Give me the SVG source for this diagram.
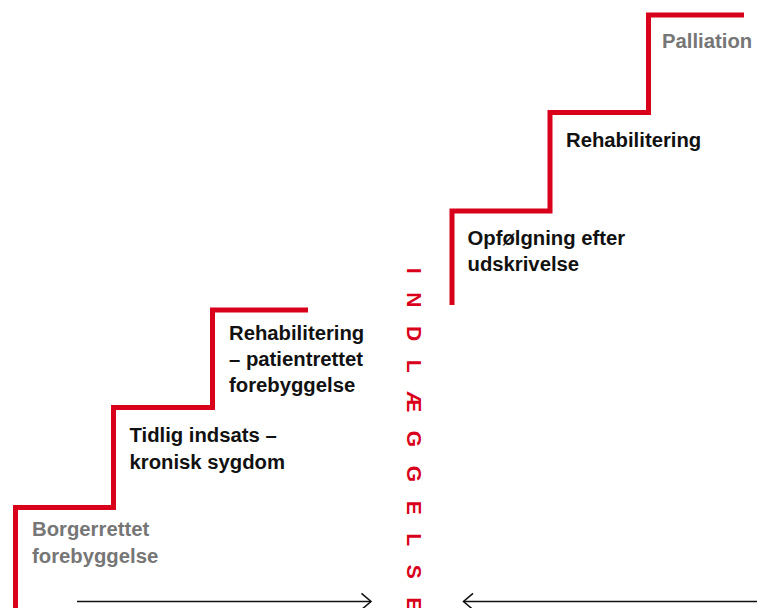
<svg xmlns="http://www.w3.org/2000/svg" width="763" height="608" viewBox="0 0 763 608">
  <style>
    .stair { fill: none; stroke: #d9001b; stroke-width: 5; stroke-linejoin: miter; stroke-linecap: butt; }
    .lbl { font-family: "Liberation Sans", Arial, sans-serif; font-weight: 700; font-size: 20.3px; fill: #111; }
    .gray { fill: #767676; }
    .vert { font-family: "Liberation Sans", Arial, sans-serif; font-weight: 700; font-size: 21px; fill: #d9001b; letter-spacing: 18.6px; }
    .arrow { fill: none; stroke: #111; stroke-width: 1.6; }
  </style>
  <defs>
    <marker id="chev" markerUnits="userSpaceOnUse" markerWidth="14" markerHeight="20" viewBox="-2 -2 14 21" refX="10" refY="8.5" orient="auto">
      <path d="M0,0 L10,8.5 L0,17" fill="none" stroke="#111" stroke-width="1.6"/>
    </marker>
  </defs>

  <g id="stairs-lower">
    <path class="stair" d="M15.5,608 V507.5 H113.5 V407.5 H212.5 V310 H308"/>
  </g>
  <g id="stairs-upper">
    <path class="stair" d="M452,305 V211 H550 V112.5 H648.5 V15 H744"/>
  </g>

  <g id="node-borgerrettet">
    <text class="lbl gray" x="32" y="536">Borgerrettet</text>
    <text class="lbl gray" x="32" y="563">forebyggelse</text>
  </g>
  <g id="node-tidlig">
    <text class="lbl" x="129.5" y="442">Tidlig indsats –</text>
    <text class="lbl" x="129.5" y="468.5">kronisk sygdom</text>
  </g>
  <g id="node-rehab-patient">
    <text class="lbl" x="229" y="340">Rehabilitering</text>
    <text class="lbl" x="229" y="366">– patientrettet</text>
    <text class="lbl" x="229" y="392">forebyggelse</text>
  </g>
  <g id="node-indlaeggelse">
    <text class="vert" transform="translate(406.5,267.8) rotate(90)" x="0" y="0">INDLÆGGELSE</text>
  </g>
  <g id="node-opfoelgning">
    <text class="lbl" x="467.5" y="244.5">Opfølgning efter</text>
    <text class="lbl" x="467.5" y="271">udskrivelse</text>
  </g>
  <g id="node-rehab">
    <text class="lbl" x="566" y="147">Rehabilitering</text>
  </g>
  <g id="node-palliation">
    <text class="lbl gray" x="662" y="48">Palliation</text>
  </g>

  <g id="connectors">
    <line class="arrow" x1="77" y1="601.5" x2="371" y2="601.5" marker-end="url(#chev)"/>
    <line class="arrow" x1="757" y1="601.5" x2="463.5" y2="601.5" marker-end="url(#chev)"/>
  </g>
</svg>
